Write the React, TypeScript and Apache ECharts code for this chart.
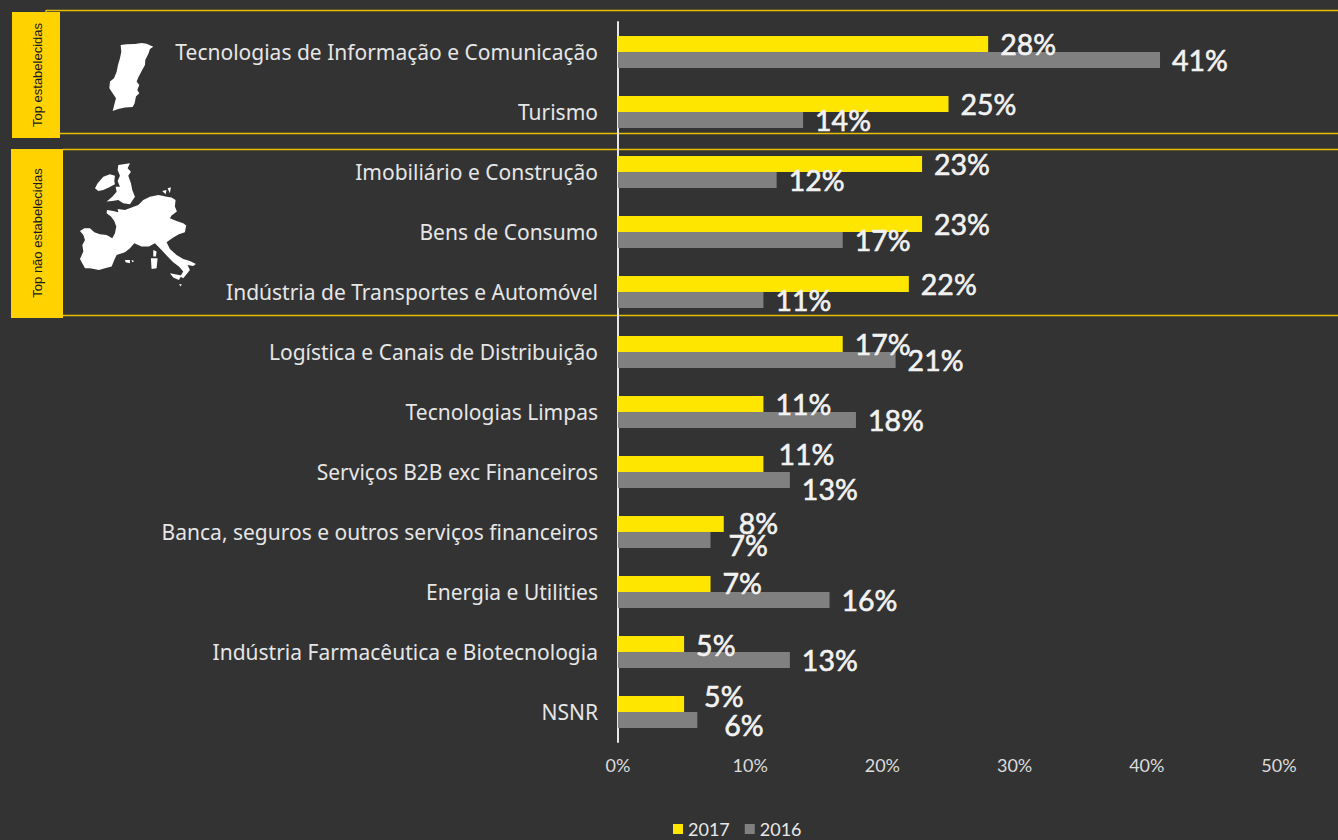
import React, { useEffect, useRef } from "react";
import * as echarts from "echarts";

const categories = [
  "Tecnologias de Informação e Comunicação",
  "Turismo",
  "Imobiliário e Construção",
  "Bens de Consumo",
  "Indústria de Transportes e Automóvel",
  "Logística e Canais de Distribuição",
  "Tecnologias Limpas",
  "Serviços B2B exc Financeiros",
  "Banca, seguros e outros serviços financeiros",
  "Energia e Utilities",
  "Indústria Farmacêutica e Biotecnologia",
  "NSNR",
];
const values2017 = [28, 25, 23, 23, 22, 17, 11, 11, 8, 7, 5, 5];
const values2016 = [41, 14, 12, 17, 11, 21, 18, 13, 7, 16, 13, 6];
const tickValues = { min: 0, max: 50, interval: 10 };
const labelNudge2017: number[][] = [[0,0],[0,0],[0,0],[0,0],[0,0],[0,0],[0,0],[3,-10],[3,-1],[0,-1],[0,1],[8,-8]];
const labelNudge2016: number[][] = [[0,0],[0,0],[0,0],[0,0],[0,0],[0,0],[0,0],[0,9],[6,5],[0,0],[0,0],[15,5]];

const portugal = [[62,30],[80,28],[105,27],[125,24],[140,26],[160,35],[150,42],[146,55],[136,75],[135,90],[125,108],[115,128],[110,140],[118,150],[112,165],[118,175],[108,185],[104,205],[98,216],[75,218],[55,222],[38,228],[44,205],[48,190],[38,175],[28,160],[30,140],[42,130],[50,110],[54,90],[60,70],[64,50]];
const europeShapes = [
  [[15,228],[28,220],[45,220],[58,232],[75,238],[95,240],[112,250],[120,235],[124,215],[118,198],[108,185],[95,175],[96,165],[115,168],[130,172],[128,162],[150,165],[170,158],[190,150],[205,135],[225,125],[250,120],[262,122],[275,125],[290,128],[302,135],[300,155],[306,170],[290,182],[285,190],[305,198],[325,205],[334,212],[330,232],[312,238],[295,248],[275,262],[285,282],[305,300],[325,312],[345,318],[363,327],[355,333],[338,330],[345,345],[335,358],[325,370],[316,365],[325,350],[312,335],[295,322],[278,305],[260,285],[240,265],[222,275],[200,275],[178,265],[165,280],[150,292],[125,300],[118,315],[110,335],[90,340],[72,345],[45,340],[30,340],[15,312],[25,290],[22,270],[30,255],[25,240]],
  [[130,30],[145,28],[165,25],[158,40],[168,50],[160,62],[168,85],[172,105],[180,125],[165,148],[145,145],[130,135],[112,138],[95,140],[112,125],[125,110],[122,95],[135,95],[128,78],[135,62],[128,45]],
  [[60,100],[68,85],[85,65],[105,58],[120,62],[118,78],[120,88],[100,98],[85,105],[70,108]],
  [[235,285],[245,290],[243,305],[235,305]],
  [[228,310],[248,310],[245,340],[230,342]],
  [[150,315],[165,315],[165,325],[152,322]],
  [[170,315],[178,318],[172,322]],
  [[285,355],[320,362],[312,375],[295,368]],
  [[312,388],[320,388],[318,395]],
  [[262,108],[275,105],[272,118]],
  [[278,100],[288,97],[285,115]],
];

const GOLD = "#ffd200";
const LINE = "#e6bf00";
const FONT = "'Noto Sans'";

function hline(x1: number, x2: number, y: number) {
  return { type: "line", shape: { x1, y1: y, x2, y2: y }, style: { stroke: LINE, lineWidth: 1.5 }, silent: true };
}

export default function App() {
  const ref = useRef<HTMLDivElement>(null);
  useEffect(() => {
    document.body.style.margin = "0";
    document.body.style.background = "#333333";
    const chart = echarts.init(ref.current!, null, { renderer: "svg" });
    const seriesLabel = (nudges: number[][]) =>
      (v: number, i: number) => ({
        value: v,
        label: { offset: nudges[i] },
      });
    chart.setOption({
      animation: false,
      backgroundColor: "#333333",
      textStyle: { fontFamily: "Lato" },
      grid: { left: 618, top: 22, width: 661, height: 720, containLabel: false },
      legend: {
        data: ["2017", "2016"],
        left: 673,
        top: 820,
        padding: 0,
        itemWidth: 10,
        itemHeight: 10,
        itemGap: 15,
        icon: "rect",
        textStyle: { color: "#e8e8e8", fontSize: 18, fontFamily: "Lato" },
      },
      xAxis: {
        type: "value",
        min: tickValues.min,
        max: tickValues.max,
        interval: tickValues.interval,
        splitLine: { show: false },
        axisLine: { show: false },
        axisTick: { show: false },
        axisLabel: { color: "#dcdcdc", fontSize: 18, margin: 14, formatter: "{value}%", fontFamily: "Lato" },
      },
      yAxis: {
        type: "category",
        data: categories,
        inverse: true,
        axisLine: { show: true, lineStyle: { color: "#e6e6e6", width: 2 } },
        axisTick: { show: false },
        axisLabel: { color: "#e6e6e6", fontSize: 21, margin: 20, fontFamily: FONT },
      },
      series: [
        { name: "2017", vals: values2017, nudges: labelNudge2017, color: "#ffe600" },
        { name: "2016", vals: values2016, nudges: labelNudge2016, color: "#808080" },
      ].map((s) => ({
        name: s.name,
        type: "bar",
        barWidth: 16,
        barGap: "0%",
        itemStyle: { color: s.color },
        data: s.vals.map(seriesLabel(s.nudges)),
        label: {
          show: true,
          position: "right",
          distance: 12,
          color: "#f2f2f2",
          fontSize: 28.5,
          fontFamily: "Lato",
          textBorderColor: "#f2f2f2",
          textBorderWidth: 0.6,
          formatter: "{c}%",
        },
      })),
      graphic: [
        hline(46, 1338, 10.5),
        { type: "line", shape: { x1: 46, y1: 10, x2: 46, y2: 14 }, style: { stroke: LINE, lineWidth: 1.5 }, silent: true },
        hline(60, 1338, 133.5),
        hline(63, 1338, 149.5),
        hline(63, 1338, 315.5),
        { type: "rect", shape: { x: 12, y: 12, width: 48, height: 126 }, style: { fill: GOLD }, silent: true },
        { type: "rect", shape: { x: 11, y: 149, width: 52, height: 169 }, style: { fill: GOLD }, silent: true },
        { type: "text", x: 37, y: 75, rotation: Math.PI / 2, style: { text: "Top estabelecidas", fill: "#1a1a1a", font: "13px 'Liberation Sans'", align: "center", verticalAlign: "middle" } },
        { type: "text", x: 37, y: 233, rotation: Math.PI / 2, style: { text: "Top não estabelecidas", fill: "#1a1a1a", font: "13px 'Liberation Sans'", align: "center", verticalAlign: "middle" } },
        {
          type: "group", x: 100, y: 35, scaleX: 1 / 3, scaleY: 1 / 3, silent: true,
          children: [{ type: "polygon", shape: { points: portugal }, style: { fill: "#ffffff" } }],
        },
        {
          type: "group", x: 75, y: 155, scaleX: 1 / 3, scaleY: 1 / 3, silent: true,
          children: europeShapes.map((points) => ({ type: "polygon", shape: { points }, style: { fill: "#ffffff" } })),
        },
      ],
    });
    return () => chart.dispose();
  }, []);
  return <div ref={ref} style={{ width: 1338, height: 840 }} />;
}
